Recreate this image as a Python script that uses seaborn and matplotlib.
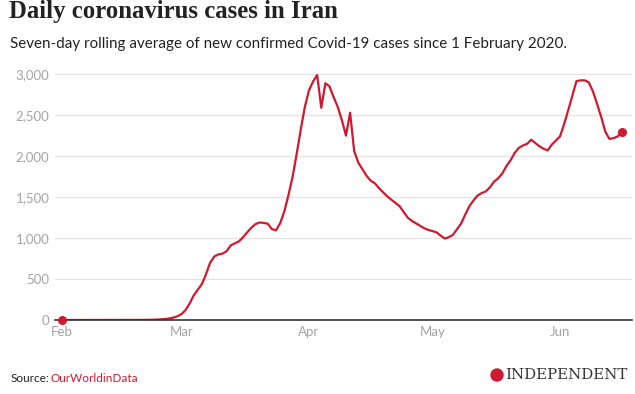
import pandas as pd
import numpy as np
import matplotlib
matplotlib.use("Agg")
import matplotlib.pyplot as plt
import matplotlib.dates as mdates
from matplotlib.patches import Ellipse
import seaborn as sns

# Seven-day rolling average of new cases, one value per day from 1 Feb 2020
start_date = "2020-02-01"
cases = [
    0, 0, 0, 0, 0, 0, 0, 0, 0, 0,
    0, 0, 0, 0, 0, 0, 0, 0, 0, 0,
    1, 2, 3, 5, 8, 12, 18, 28, 45, 70,
    120, 200, 300, 370, 440, 560, 700, 775, 800, 810,
    840, 910, 935, 960, 1010, 1070, 1125, 1170, 1190, 1185,
    1175, 1110, 1095, 1180, 1320, 1520, 1740, 2020, 2320, 2600,
    2800, 2910, 2990, 2590, 2890, 2850, 2720, 2600, 2440, 2250,
    2530, 2060, 1920, 1840, 1760, 1700, 1670, 1610, 1560, 1510,
    1470, 1430, 1390, 1320, 1250, 1210, 1180, 1150, 1120, 1100,
    1085, 1070, 1030, 995, 1010, 1040, 1110, 1180, 1290, 1390,
    1460, 1520, 1550, 1570, 1620, 1690, 1730, 1790, 1880, 1950,
    2040, 2100, 2130, 2150, 2200, 2160, 2120, 2090, 2070, 2140,
    2190, 2240, 2390, 2560, 2740, 2915, 2925, 2925, 2900, 2790,
    2640, 2480, 2300, 2210, 2220, 2240, 2290,
]
month_ticks = ["2020-02-01", "2020-03-01", "2020-04-01", "2020-05-01", "2020-06-01"]
y_ticks = [0, 500, 1000, 1500, 2000, 2500, 3000]

df = pd.DataFrame({
    "date": pd.date_range(start_date, periods=len(cases), freq="D"),
    "cases": cases,
})

RED = "#d0192f"
GREY = "#a3a3a3"

sns.set_theme(style="white")
plt.rcParams["font.family"] = ["Lato", "DejaVu Sans"]

fig = plt.figure(figsize=(6.35, 3.94), dpi=100)
ax = fig.add_axes([0.0866, 0.1878, 0.9087, 0.6447])

sns.lineplot(data=df, x="date", y="cases", ax=ax, color=RED, linewidth=1.6)
ends = df.iloc[[0, -1]]
ax.scatter(ends["date"], ends["cases"], s=30, color=RED, zorder=5, clip_on=False)

t0 = pd.Timestamp(start_date)
ax.set_xlim(t0 - pd.Timedelta(days=1.7), t0 + pd.Timedelta(days=138.5))
ax.set_ylim(0, 3100)
ax.set_yticks(y_ticks)
ax.set_yticklabels([f"{v:,}" for v in y_ticks])
ax.set_xticks(pd.to_datetime(month_ticks))
ax.xaxis.set_major_formatter(mdates.DateFormatter("%b"))
ax.tick_params(axis="both", length=0, colors=GREY, labelsize=9.5)
ax.tick_params(axis="y", pad=4)
ax.tick_params(axis="x", pad=4)
ax.set_xlabel("")
ax.set_ylabel("")

for spine in ["top", "right", "left"]:
    ax.spines[spine].set_visible(False)
ax.spines["bottom"].set_color("#333333")
ax.spines["bottom"].set_linewidth(1.2)
ax.grid(axis="y", color="#e3e3e3", linewidth=0.9)
ax.set_axisbelow(True)

fig.text(0.014, 0.955, "Daily coronavirus cases in Iran", family="Liberation Serif",
         fontsize=17.8, fontweight="bold", color="#222222", va="baseline")
fig.text(0.016, 0.878, "Seven-day rolling average of new confirmed Covid-19 cases since 1 February 2020.",
         fontsize=10.9, color="#222222", va="baseline")

src = fig.text(0.016, 0.030, "Source:", fontsize=8.5, color="#222222", va="baseline")
fig.canvas.draw()
bb = src.get_window_extent().transformed(fig.transFigure.inverted())
fig.text(bb.x1 + 1 / 635, 0.030, "OurWorldinData", fontsize=8.5, color=RED, va="baseline")

fig.add_artist(Ellipse((497 / 635, 1 - 375 / 394), 12 / 635, 12 / 394,
                       transform=fig.transFigure, color=RED))
fig.text(505 / 635, 0.038, "INDEPENDENT", family="DejaVu Serif", fontsize=10.8,
         color="#333333", va="baseline")

plt.savefig("out.png", dpi=100)
